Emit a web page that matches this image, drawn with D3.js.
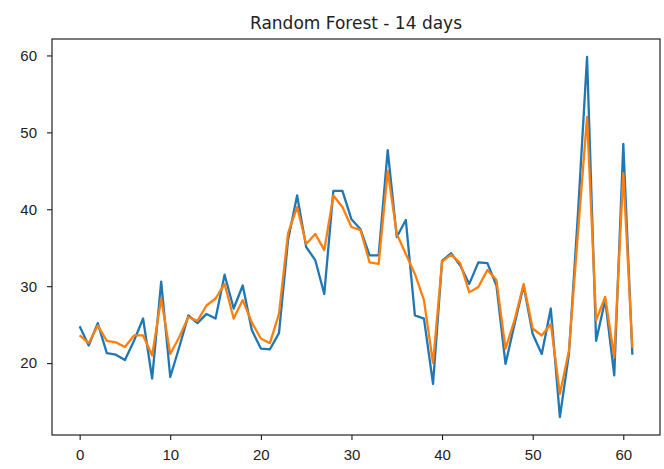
<!DOCTYPE html>
<html>
<head>
<meta charset="utf-8">
<script src="https://cdn.jsdelivr.net/npm/d3@7"></script>
<style>
  body { margin: 0; background: #fff; }
  svg { display: block; font-family: "DejaVu Sans", sans-serif; }
  .tick text { fill: #222; }
</style>
</head>
<body>
<svg id="chart"></svg>
<script>
'use strict'

// values, one per day index
const actual = [24.8, 22.3, 25.2, 21.3, 21.1, 20.4, 22.9, 25.8, 18.0, 30.6,
  18.2, 22.1, 26.2, 25.2, 26.4, 25.8, 31.5, 27.1, 30.1, 24.3,
  21.9, 21.8, 23.9, 36.0, 41.8, 35.1, 33.4, 29.0, 42.4, 42.4,
  38.7, 37.4, 34.0, 34.0, 47.7, 36.4, 38.6, 26.2, 25.8, 17.3,
  33.3, 34.3, 32.7, 30.3, 33.1, 33.0, 30.1, 19.9, 25.1, 30.1,
  23.8, 21.2, 27.1, 13.0, 21.2, 39.5, 59.8, 22.9, 28.2, 18.4,
  48.5, 21.1]
const predicted = [23.6, 22.6, 24.9, 22.9, 22.7, 22.1, 23.6, 23.6, 21.0, 28.4,
  21.2, 23.4, 26.0, 25.5, 27.5, 28.4, 30.3, 25.8, 28.2, 25.3,
  23.2, 22.6, 26.4, 36.9, 40.3, 35.5, 36.8, 34.7, 41.8, 40.3,
  37.7, 37.3, 33.1, 32.9, 45.0, 36.8, 34.2, 31.6, 28.2, 20.0,
  33.2, 34.1, 33.0, 29.2, 29.9, 32.1, 30.8, 21.9, 25.6, 30.3,
  24.5, 23.6, 25.1, 16.0, 21.6, 37.0, 52.0, 25.6, 28.6, 20.8,
  44.7, 22.0]
const days = d3.range(actual.length)
const xTicks = [0, 10, 20, 30, 40, 50, 60]
const yTicks = [20, 30, 40, 50, 60]
const title = "Random Forest - 14 days"

const width = 664, height = 469
const plot = {left: 52, right: 660, top: 39, bottom: 435}

const svg = d3.select('#chart')
  .attr("width", width)
  .attr("height", height)

// matplotlib style 5% margins round the data
const xPad = (days.length - 1) * 0.05
const x = d3.scaleLinear()
  .domain([-xPad, days.length - 1 + xPad])
  .range([plot.left, plot.right])

const allVals = actual.concat(predicted)
const yMin = d3.min(allVals), yMax = d3.max(allVals)
const yPad = (yMax - yMin) * 0.05
const y = d3.scaleLinear()
  .domain([yMin - yPad, yMax + yPad])
  .range([plot.bottom, plot.top])

// lines
const line = (vals) => d3.line()
  .x((d, i) => x(i))
  .y((d) => y(d))(vals)

svg.append("path")
  .attr("d", line(actual))
  .attr("fill", "none")
  .attr("stroke", "#1f77b4")
  .attr("stroke-width", 2.3)
  .attr("stroke-linejoin", "round")

svg.append("path")
  .attr("d", line(predicted))
  .attr("fill", "none")
  .attr("stroke", "#ff7f0e")
  .attr("stroke-width", 2.3)
  .attr("stroke-linejoin", "round")

// axes
const xAxis = svg.append("g")
  .attr("transform", "translate(0," + plot.bottom + ")")
  .call(d3.axisBottom(x).tickValues(xTicks).tickSize(5).tickPadding(9))
xAxis.select(".domain").remove()
xAxis.selectAll("text").style("font-size", "15px")

const yAxis = svg.append("g")
  .attr("transform", "translate(" + plot.left + ",0)")
  .call(d3.axisLeft(y).tickValues(yTicks).tickSize(5).tickPadding(10))
yAxis.select(".domain").remove()
yAxis.selectAll("text").style("font-size", "15px")

// frame
svg.append("rect")
  .attr("x", plot.left)
  .attr("y", plot.top)
  .attr("width", plot.right - plot.left)
  .attr("height", plot.bottom - plot.top)
  .attr("fill", "none")
  .attr("stroke", "#222")
  .attr("stroke-width", 1.2)

// title
svg.append("text")
  .attr("x", (plot.left + plot.right) / 2)
  .attr("y", 29)
  .attr("text-anchor", "middle")
  .style("font-size", "17px")
  .style("fill", "#222")
  .text(title)
</script>
</body>
</html>
